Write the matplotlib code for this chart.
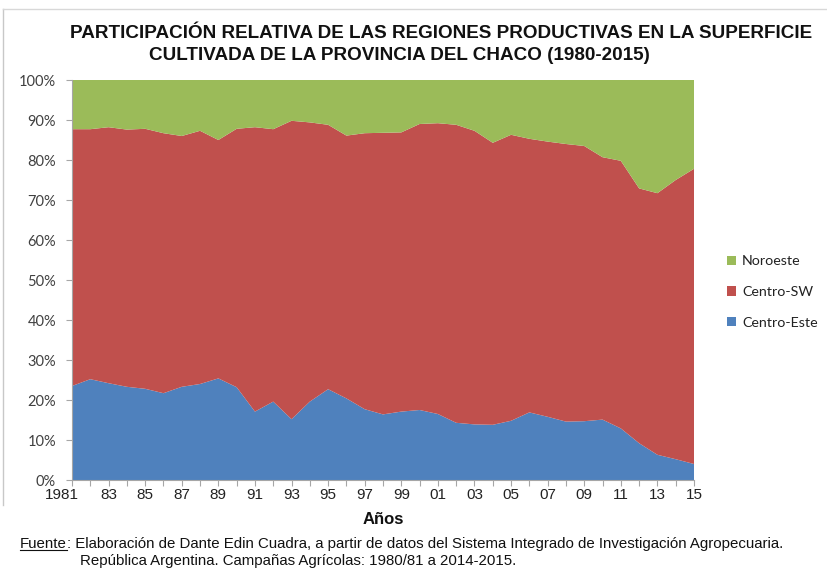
import matplotlib
matplotlib.use("Agg")
import matplotlib.pyplot as plt
from matplotlib.lines import Line2D
from matplotlib.transforms import ScaledTranslation

years = list(range(1981, 2016))
centro_este = [23.5, 25.2, 24.2, 23.3, 22.8, 21.7, 23.3, 24.0, 25.4, 23.2,
               17.1, 19.6, 15.2, 19.6, 22.7, 20.4, 17.7, 16.4, 17.1, 17.5,
               16.5, 14.3, 13.9, 13.8, 14.8, 16.9, 15.8, 14.6, 14.7, 15.1,
               12.9, 9.2, 6.3, 5.2, 4.0]
centro_sw = [64.2, 62.5, 64.0, 64.3, 65.0, 65.0, 62.7, 63.3, 59.6, 64.6,
             71.1, 68.1, 74.6, 69.8, 66.1, 65.7, 69.0, 70.4, 69.8, 71.5,
             72.7, 74.5, 73.4, 70.5, 71.5, 68.4, 68.8, 69.4, 68.8, 65.6,
             66.9, 63.7, 65.4, 69.8, 73.8]
noroeste = [12.3, 12.3, 11.8, 12.4, 12.2, 13.3, 14.0, 12.7, 15.0, 12.2,
            11.8, 12.3, 10.2, 10.6, 11.2, 13.9, 13.3, 13.2, 13.1, 11.0,
            10.8, 11.2, 12.7, 15.7, 13.7, 14.7, 15.4, 16.0, 16.5, 19.3,
            20.2, 27.1, 28.3, 25.0, 22.2]
series_names = ["Centro-Este", "Centro-SW", "Noroeste"]
colors = ["#4F81BD", "#C0504D", "#9BBB59"]

title_1 = "PARTICIPACIÓN RELATIVA DE LAS REGIONES PRODUCTIVAS EN LA SUPERFICIE"
title_2 = "CULTIVADA DE LA PROVINCIA DEL CHACO (1980-2015)"
source_1 = ": Elaboración de Dante Edin Cuadra, a partir de datos del Sistema Integrado de Investigación Agropecuaria."
source_2 = "República Argentina. Campañas Agrícolas: 1980/81 a 2014-2015."

calibri_like = "Lato"

W, H = 827, 569
fig = plt.figure(figsize=(W / 100, H / 100), dpi=100)
ax = fig.add_axes([72 / W, 1 - 480 / H, 622 / W, 400 / H])

ax.stackplot(years, centro_este, centro_sw, noroeste,
             colors=colors, labels=series_names, linewidth=0)

ax.set_xlim(1981, 2015)
ax.set_ylim(0, 100)
ax.set_yticks(range(0, 101, 10))
ax.set_yticklabels([f"{v}%" for v in range(0, 101, 10)],
                   fontfamily=calibri_like, fontsize=10.5, color="#404040")
ax.set_xticks(years)
xlabels = []
for y in years:
    if (y - 1981) % 2:
        xlabels.append("")
    elif y == 1981:
        xlabels.append("1981")
    else:
        xlabels.append(f"{y % 100:02d}")
ax.set_xticklabels(xlabels, fontfamily="Liberation Sans", fontsize=11, color="#222222")
ax.tick_params(axis="both", direction="out", length=4, width=0.8, color="#a6a6a6")
ax.tick_params(axis="y", pad=7.5)
ax.tick_params(axis="x", pad=2)
# first label sits a bit to the left of its tick, like in the original
first = ax.get_xticklabels()[0]
first.set_transform(first.get_transform() + ScaledTranslation(-10 / 100, 0, fig.dpi_scale_trans))
for side in ["top", "right"]:
    ax.spines[side].set_visible(False)
for side in ["left", "bottom"]:
    ax.spines[side].set_color("#a6a6a6")
    ax.spines[side].set_linewidth(0.8)

ax.set_xlabel("Años", fontfamily="Liberation Sans", fontweight="bold",
              fontsize=12, color="#111111", labelpad=7)

handles, labels = ax.get_legend_handles_labels()
leg = fig.legend(handles[::-1], labels[::-1], loc="center left",
                 bbox_to_anchor=(727 / W, 1 - 292 / H), frameon=False,
                 prop={"family": calibri_like, "size": 10.3},
                 handlelength=0.65, handleheight=0.65, handletextpad=0.4,
                 labelspacing=1.3, borderpad=0, borderaxespad=0)
for t in leg.get_texts():
    t.set_color("#222222")

fig.text(441 / W, 1 - 33 / H, title_1, ha="center", va="center",
         fontfamily="Liberation Sans", fontweight="bold", fontsize=13.6, color="#111111")
fig.text(399 / W, 1 - 56 / H, title_2, ha="center", va="center",
         fontfamily="Liberation Sans", fontweight="bold", fontsize=13.6, color="#111111")

# chart frame (light grey), as in the spreadsheet export
fig.add_artist(Line2D([3 / W, 3 / W], [1 - 505 / H, 1 - 9 / H], color="#c8c8c8", lw=1))
fig.add_artist(Line2D([3 / W, 1], [1 - 9 / H, 1 - 9 / H], color="#d8d8d8", lw=1))

# source note with underlined "Fuente"
fsize = 10.8
fy = 1 - 544 / H
t_f = fig.text(20 / W, fy, "Fuente", ha="left", va="center",
               fontfamily="Liberation Sans", fontsize=fsize, color="#111111")
fig.canvas.draw()
bb = t_f.get_window_extent()
fig.text(bb.x1 / W, fy, source_1, ha="left", va="center",
         fontfamily="Liberation Sans", fontsize=fsize, color="#111111")
fig.add_artist(Line2D([bb.x0 / W, bb.x1 / W], [(bb.y0 + 1.5) / H, (bb.y0 + 1.5) / H],
                      color="#111111", lw=0.8))
fig.text(80 / W, 1 - 561 / H, source_2, ha="left", va="center",
         fontfamily="Liberation Sans", fontsize=fsize, color="#111111")

fig.savefig("out.png", dpi=100)
